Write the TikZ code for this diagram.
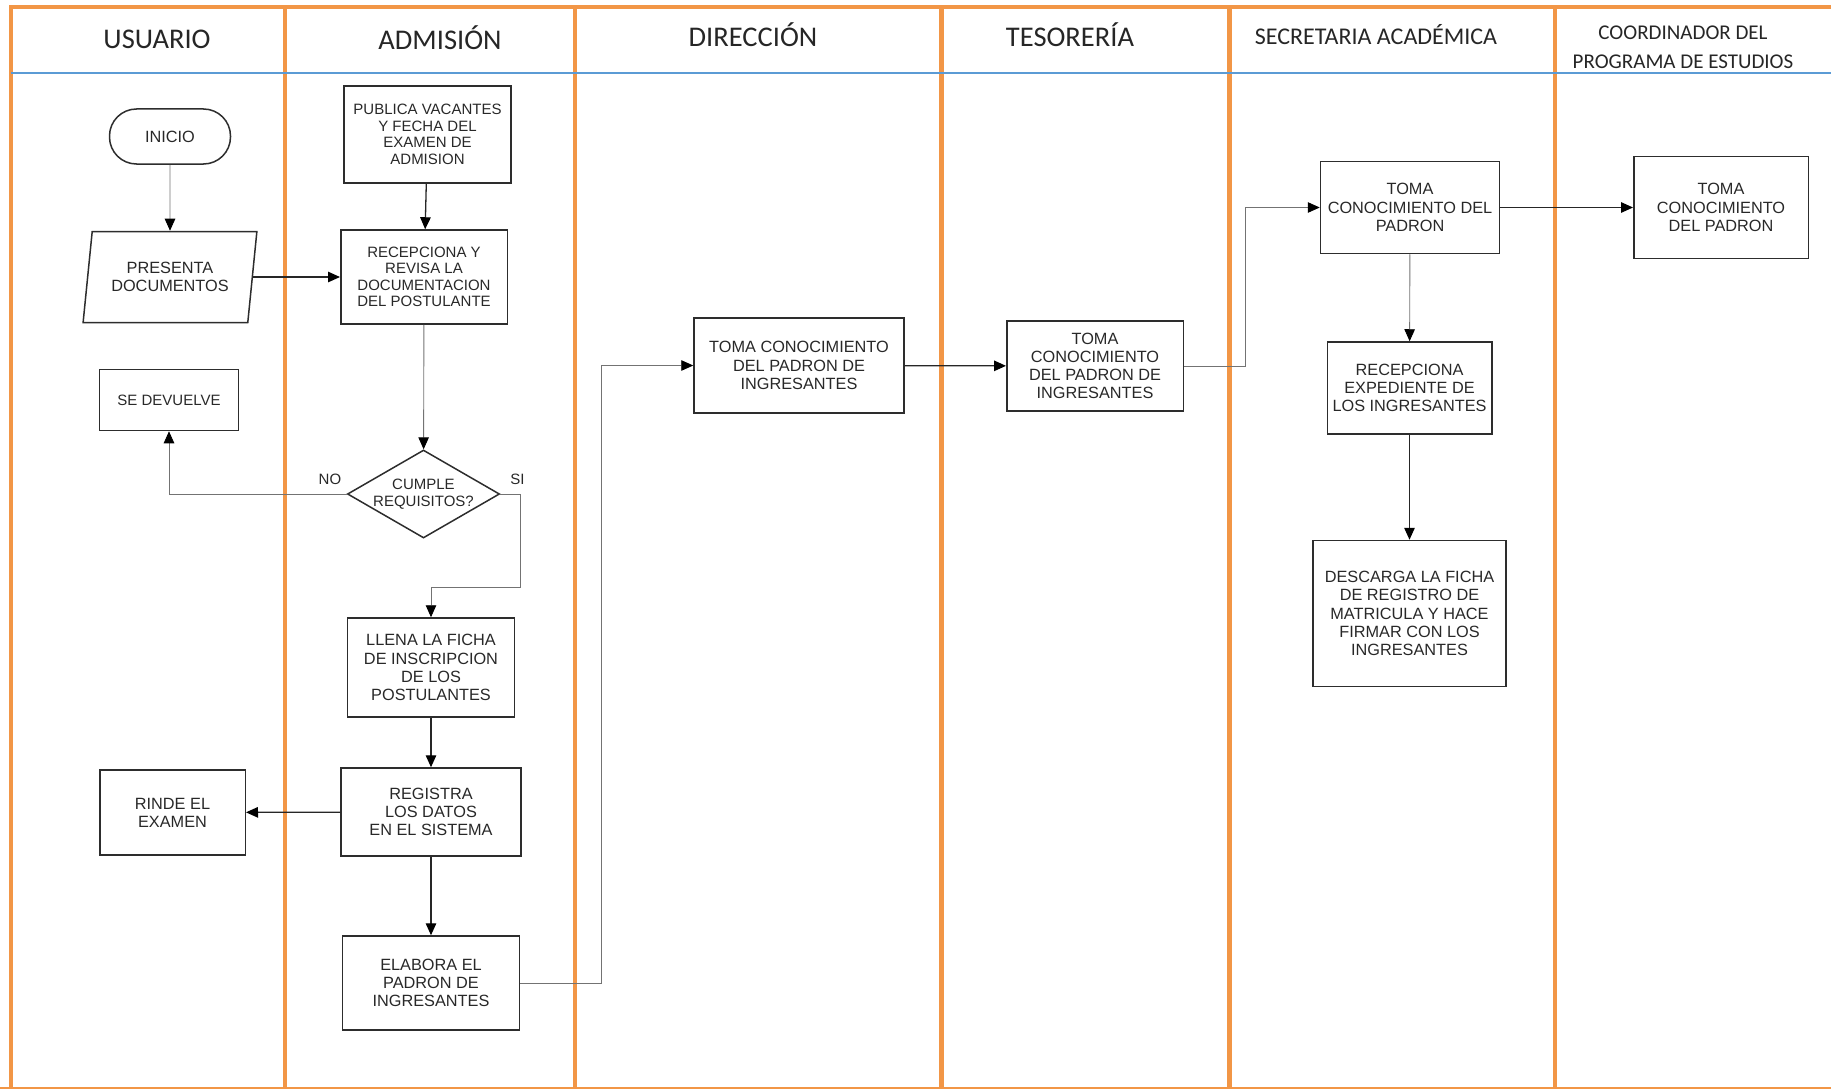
\documentclass[tikz,border=0pt]{standalone}
\usepackage{xcolor}
\usepackage{fontspec}
\setmainfont{Liberation Sans}
\newfontfamily\headfont{Carlito}
\definecolor{laneorange}{RGB}{242, 150, 70}
\definecolor{headline}{RGB}{91, 155, 213}
\definecolor{boxtext}{RGB}{40, 40, 40}
\definecolor{boxline}{RGB}{45, 45, 45}
\usepackage{tikz}
\usetikzlibrary{shapes,arrows.meta}

\begin{document}
\begin{tikzpicture}[
    x=1pt, y=-1pt,
    lane/.style={draw=laneorange, line width=4.5pt},
    header/.style={anchor=base, text=black!85, font=\headfont\fontsize{28.5}{30}\selectfont},
    process/.style={rectangle, draw=boxline, line width=1.5pt, align=center, inner sep=0pt, text=boxtext, font=\fontsize{16.3}{18.2}\selectfont},
    smalltext/.style={font=\fontsize{15}{16.5}\selectfont},
    terminal/.style={process, rounded corners=27pt},
    inputbox/.style={process, trapezium, trapezium left angle=77, trapezium right angle=103, trapezium stretches=true},
    decision/.style={process, diamond, aspect=1.73},
    answer/.style={smalltext, text=boxtext, inner xsep=5pt, inner ysep=9pt},
    arrow/.style={-{Triangle[length=12pt, width=10.5pt, black]}, draw=black!85, line width=1.3pt},
    link/.style={-{Triangle[length=12pt, width=10.5pt, black]}, draw=black!55, line width=0.9pt}
]
\useasboundingbox (0,0) rectangle (1831,1089);

\draw[lane] (11,1095) -- (11,7) -- (1840,7);
\foreach \x in {285,575,941.5,1229.5,1555}
    \draw[lane] (\x,7) -- (\x,1095);
\draw[lane] (0,1089) -- (1840,1089);
\draw[headline, line width=1.8pt] (11,73) -- (1840,73);

\node[header] (usuario) at (157,48.5) {USUARIO};
\node[header] (admision) at (440,50) {ADMISIÓN};
\node[header] (direccion) at (753,46.5) {DIRECCIÓN};
\node[header] (tesoreria) at (1070,46.5) {TESORERÍA};
\node[header, font=\headfont\fontsize{24}{26}\selectfont] (secretaria) at (1376,45) {SECRETARIA ACADÉMICA};
\node[header, anchor=center, align=center, font=\headfont\fontsize{21}{28.7}\selectfont] (coordinador) at (1683,47) {COORDINADOR DEL\\PROGRAMA DE ESTUDIOS};

\node[terminal, minimum width=121pt, minimum height=55pt] (inicio) at (170,136.5) {INICIO};
\node[process, smalltext, minimum width=167pt, minimum height=97pt] (publica) at (427.5,134.5) {PUBLICA VACANTES\\Y FECHA DEL\\EXAMEN DE\\ADMISION};
\node[inputbox, minimum width=174pt, minimum height=91pt] (presenta) at (170,277) {PRESENTA\\DOCUMENTOS};
\node[process, smalltext, minimum width=166.5pt, minimum height=94pt] (recepciona) at (424,277) {RECEPCIONA Y\\REVISA LA\\DOCUMENTACION\\DEL POSTULANTE};
\node[process, smalltext, minimum width=139pt, minimum height=61pt] (devuelve) at (169,400) {SE DEVUELVE};
\node[decision, smalltext, minimum width=152pt, minimum height=88pt] (cumple) at (423.5,494) {CUMPLE\\REQUISITOS?};
\node[process, minimum width=167pt, minimum height=99pt] (llena) at (431,667.5) {LLENA LA FICHA\\DE INSCRIPCION\\DE LOS\\POSTULANTES};
\node[process, minimum width=180pt, minimum height=88pt] (registra) at (431,812) {REGISTRA\\LOS DATOS\\EN EL SISTEMA};
\node[process, minimum width=145.5pt, minimum height=85pt] (rinde) at (172.5,812.5) {RINDE EL\\EXAMEN};
\node[process, minimum width=177pt, minimum height=94pt] (elabora) at (431,983) {ELABORA EL\\PADRON DE\\INGRESANTES};
\node[process, minimum width=210pt, minimum height=95pt] (tomadir) at (799,365.5) {TOMA CONOCIMIENTO\\DEL PADRON DE\\INGRESANTES};
\node[process, minimum width=176.5pt, minimum height=90pt] (tomates) at (1095,366) {TOMA\\CONOCIMIENTO\\DEL PADRON DE\\INGRESANTES};
\node[process, minimum width=179pt, minimum height=92pt] (tomasec) at (1410,207.5) {TOMA\\CONOCIMIENTO DEL\\PADRON};
\node[process, minimum width=174.5pt, minimum height=102pt] (tomacoord) at (1721,207.5) {TOMA\\CONOCIMIENTO\\DEL PADRON};
\node[process, minimum width=164.5pt, minimum height=92pt] (expediente) at (1409.5,388) {RECEPCIONA\\EXPEDIENTE DE\\LOS INGRESANTES};
\node[process, minimum width=193pt, minimum height=146pt] (descarga) at (1409.5,613.5) {DESCARGA LA FICHA\\DE REGISTRO DE\\MATRICULA Y HACE\\FIRMAR CON LOS\\INGRESANTES};

\draw[link] (inicio) -- (presenta);
\draw[arrow] (presenta) -- (recepciona);
\draw[arrow] (publica) -- (recepciona);
\draw[link] (recepciona) -- (cumple);
\draw[link] (cumple.west) node[answer, above left] {NO} -| (devuelve.south);
\draw[link] (cumple.east) node[answer, above right, xshift=4.5pt] {SI} -- ++(20,0) -- ++(0,93) -| (llena.north);
\draw[arrow] (llena) -- (registra);
\draw[arrow] (registra) -- (rinde);
\draw[arrow] (registra) -- (elabora);
\draw[link] (elabora.east) -- ++(81.5,0) |- (tomadir.west);
\draw[arrow] (tomadir) -- (tomates);
\draw[link] (tomates.east) -- ++(61.5,0) |- (tomasec.west);
\draw[arrow] (tomasec) -- (tomacoord);
\draw[link] (tomasec) -- (expediente);
\draw[arrow] (expediente) -- (descarga);

\end{tikzpicture}
\end{document}
